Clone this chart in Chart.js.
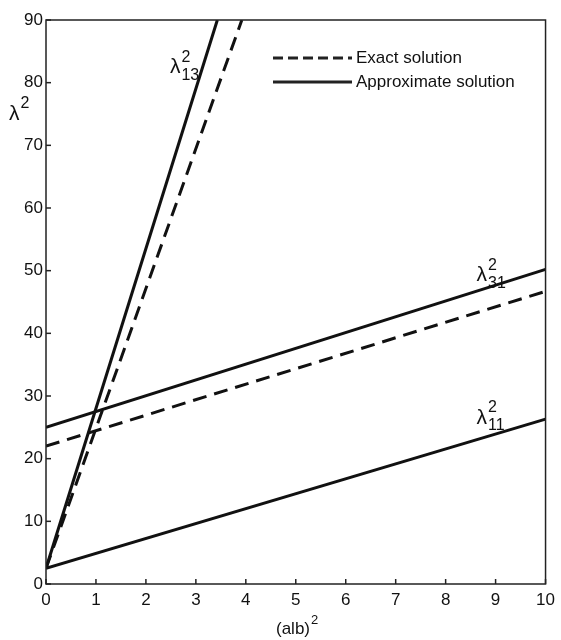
<!DOCTYPE html>
<html>
<head>
<meta charset="utf-8">
<script src="https://cdn.jsdelivr.net/npm/chart.js@4.4.1/dist/chart.umd.min.js"></script>
<style>
  html, body { margin: 0; padding: 0; background: #fff; }
  canvas { display: block; }
</style>
</head>
<body>
<canvas id="chart" width="561" height="640"></canvas>
<script>
// values: x = (a/b)^2, y = lambda^2
const xTicks = [0, 1, 2, 3, 4, 5, 6, 7, 8, 9, 10];
const yTicks = [0, 10, 20, 30, 40, 50, 60, 70, 80, 90];

const l13ApproxX = [0, 3.43];
const l13ApproxY = [2.5, 90];
const l13ExactX = [0, 3.92];
const l13ExactY = [2.5, 90];
const l31ApproxX = [0, 10];
const l31ApproxY = [25, 50.2];
const l31ExactX = [0, 10];
const l31ExactY = [22, 46.7];
const l11ApproxX = [0, 10];
const l11ApproxY = [2.5, 26.3];

const legendItems = ['Exact solution', 'Approximate solution'];
const curveNames = ['13', '31', '11'];

const FONT = '"Liberation Sans", Arial, sans-serif';
const INK = '#111';

const pts = (xs, ys) => xs.map((x, i) => ({ x, y: ys[i] }));
const line = (data, dashed) => ({
  data,
  showLine: true,
  borderColor: INK,
  borderWidth: 3,
  borderDash: dashed ? [14, 8] : [],
  pointRadius: 0,
  fill: false,
});

// draws lambda with a superscript 2 and optional subscript
const lambda = (ctx, x, y, sub, size) => {
  ctx.font = `${size}px ${FONT}`;
  ctx.textBaseline = 'alphabetic';
  ctx.textAlign = 'left';
  ctx.fillText('λ', x, y);
  const w = ctx.measureText('λ').width;
  ctx.font = `${Math.round(size * 0.75)}px ${FONT}`;
  ctx.fillText('2', x + w + 1, y - size * 0.55);
  if (sub) ctx.fillText(sub, x + w + 1, y + size * 0.3);
};

const decor = {
  id: 'decor',
  afterDraw(chart) {
    const { ctx, chartArea: a, scales } = chart;
    const sx = scales.x, sy = scales.y;
    ctx.save();
    ctx.strokeStyle = '#222';
    ctx.fillStyle = INK;
    ctx.lineWidth = 1.5;
    ctx.strokeRect(a.left, a.top, a.right - a.left, a.bottom - a.top);

    // inward tick marks
    xTicks.forEach((v) => {
      const p = sx.getPixelForValue(v);
      ctx.beginPath();
      ctx.moveTo(p, a.bottom);
      ctx.lineTo(p, a.bottom - 5);
      ctx.stroke();
    });
    yTicks.forEach((v) => {
      const p = sy.getPixelForValue(v);
      ctx.beginPath();
      ctx.moveTo(a.left, p);
      ctx.lineTo(a.left + 5, p);
      ctx.stroke();
    });

    // curve labels
    const at = [
      [sx.getPixelForValue(2.48), sy.getPixelForValue(81.5)],
      [sx.getPixelForValue(8.62), sy.getPixelForValue(48.3)],
      [sx.getPixelForValue(8.62), sy.getPixelForValue(25.6)],
    ];
    curveNames.forEach((n, i) => lambda(ctx, at[i][0], at[i][1], n, 21));

    // axis titles
    lambda(ctx, 9, 120, '', 21);
    ctx.font = `17px ${FONT}`;
    ctx.textAlign = 'left';
    ctx.textBaseline = 'alphabetic';
    const t = '(alb)';
    const tw = ctx.measureText(t).width;
    const tx = 297 - tw / 2 - 4;
    ctx.fillText(t, tx, 634);
    ctx.font = `13px ${FONT}`;
    ctx.fillText('2', tx + tw + 1, 624);

    // legend
    ctx.lineWidth = 3;
    [58, 82].forEach((yy, i) => {
      ctx.setLineDash(i === 0 ? [10, 5] : []);
      ctx.beginPath();
      ctx.moveTo(273, yy);
      ctx.lineTo(352, yy);
      ctx.stroke();
      ctx.setLineDash([]);
      ctx.font = `17px ${FONT}`;
      ctx.textBaseline = 'middle';
      ctx.fillText(legendItems[i], 356, yy);
    });
    ctx.restore();
  },
};

new Chart(document.getElementById('chart'), {
  type: 'scatter',
  data: {
    datasets: [
      line(pts(l13ApproxX, l13ApproxY), false),
      line(pts(l13ExactX, l13ExactY), true),
      line(pts(l31ApproxX, l31ApproxY), false),
      line(pts(l31ExactX, l31ExactY), true),
      line(pts(l11ApproxX, l11ApproxY), false),
    ],
  },
  options: {
    responsive: false,
    animation: false,
    layout: { padding: { top: 20, right: 13, left: 0, bottom: 0 } },
    plugins: { legend: { display: false }, tooltip: { enabled: false } },
    scales: {
      x: {
        type: 'linear',
        min: 0,
        max: 10,
        afterFit: (s) => { s.height = 56; },
        afterBuildTicks: (s) => { s.ticks = xTicks.map((v) => ({ value: v })); },
        grid: { display: false, drawTicks: false },
        border: { display: false },
        ticks: { color: INK, padding: 6, font: { family: FONT, size: 17 } },
      },
      y: {
        type: 'linear',
        min: 0,
        max: 90,
        afterFit: (s) => { s.width = 46; },
        afterBuildTicks: (s) => { s.ticks = yTicks.map((v) => ({ value: v })); },
        grid: { display: false, drawTicks: false },
        border: { display: false },
        ticks: { color: INK, padding: 3, font: { family: FONT, size: 17 } },
      },
    },
  },
  plugins: [decor],
});
</script>
</body>
</html>
